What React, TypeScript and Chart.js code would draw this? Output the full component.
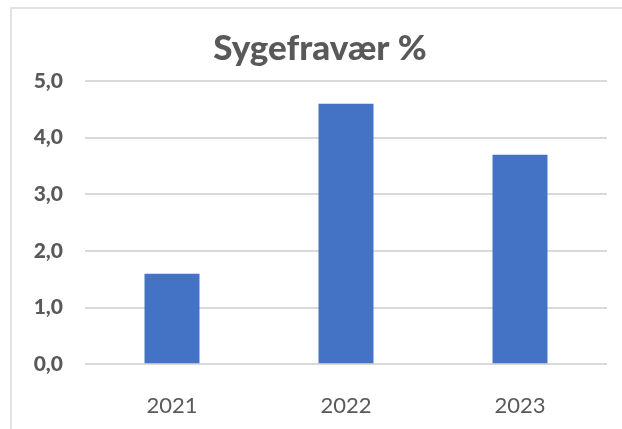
import React, { useEffect, useRef } from "react";
import { Chart, registerables } from "chart.js";

Chart.register(...registerables);

const categories = ["2021", "2022", "2023"];
const values = [1.6, 4.6, 3.7];
const titleText = "Sygefravær %";
const yMin = 0;
const yMax = 5;
const yStep = 1;

export default function App() {
  const ref = useRef<HTMLCanvasElement | null>(null);

  useEffect(() => {
    if (!ref.current) return;
    const chart = new Chart(ref.current, {
      type: "bar",
      data: {
        labels: categories,
        datasets: [
          {
            data: values,
            backgroundColor: "#4472C4",
            borderWidth: 0,
            barPercentage: 0.316,
            categoryPercentage: 1,
          },
        ],
      },
      options: {
        animation: false,
        responsive: false,
        maintainAspectRatio: false,
        layout: { padding: { left: 33, right: 15, top: 0, bottom: 0 } },
        plugins: {
          legend: { display: false },
          tooltip: { enabled: false },
          title: {
            display: true,
            text: titleText,
            color: "#595959",
            font: { family: "Lato", size: 35, weight: 900, lineHeight: 1.2 },
            padding: { top: 28, bottom: 11 },
          },
        },
        scales: {
          x: {
            grid: { display: false },
            border: { display: false },
            ticks: {
              color: "#595959",
              font: { family: "Lato", size: 22 },
              padding: 20,
            },
            afterFit: (s: any) => {
              s.height = 64.7;
            },
          },
          y: {
            min: yMin,
            max: yMax,
            border: { display: false },
            grid: { color: "#d9d9d9", lineWidth: 2, drawTicks: false },
            ticks: {
              stepSize: yStep,
              color: "#595959",
              font: { family: "Lato", size: 21, weight: 900 },
              padding: 22,
              callback: (v: any) => Number(v).toFixed(1).replace(".", ","),
            },
            afterFit: (s: any) => {
              s.width = 52;
            },
          },
        },
      },
    });
    return () => chart.destroy();
  }, []);

  return (
    <div style={{ position: "fixed", left: 0, top: 0, width: 622, height: 429, background: "#fff" }}>
      <div
        style={{
          position: "absolute",
          left: 10,
          top: 7,
          right: -10,
          bottom: -10,
          borderLeft: "2px solid #e2e2e2",
          borderTop: "2px solid #e2e2e2",
        }}
      />
      <canvas ref={ref} width={622} height={429} style={{ position: "absolute", left: 0, top: 0 }} />
    </div>
  );
}
